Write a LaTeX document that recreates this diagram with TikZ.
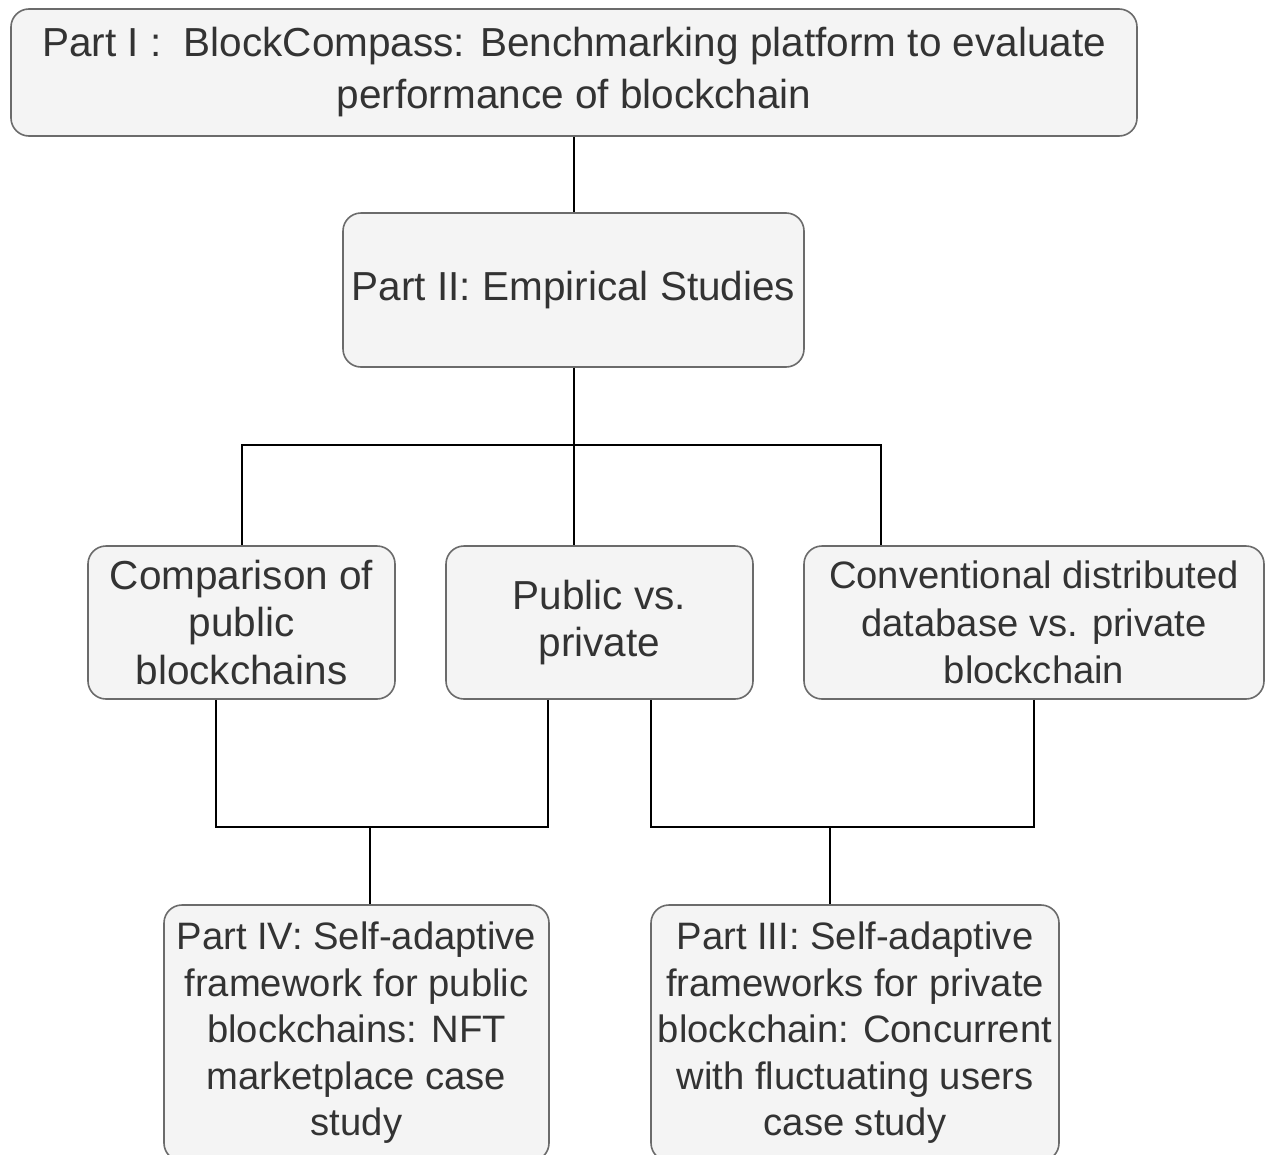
\documentclass[tikz,border=0pt]{standalone}
\usepackage{fontspec}
\setmainfont{Liberation Sans}
\begin{document}
\begin{tikzpicture}[x=1pt,y=-1pt,
  box/.style={draw=boxline, fill=boxfill, line width=1.6pt, rounded corners=18pt,
    inner sep=0pt, align=center, text=textgray,
    font=\fontsize{40.5}{47.5}\selectfont},
  smalltext/.style={font=\fontsize{38.2}{46.5}\selectfont},
  link/.style={draw=black, line width=2pt}]
\definecolor{boxline}{HTML}{6B6B6B}
\definecolor{boxfill}{HTML}{F4F4F4}
\definecolor{textgray}{HTML}{333333}
\useasboundingbox[fill=white] (0,0) rectangle (1265,1154);

% boxes, each placed by its centre and size
\node[box, font=\fontsize{40.5}{52}\selectfont, minimum width=1126pt, minimum height=127pt] (p1) at (574,72.5)
  {Part I :~ BlockCompass: Benchmarking platform to evaluate\\performance of blockchain};
\node[box, minimum width=461pt, minimum height=154pt] (p2) at (573.5,290)
  {Part II: Empirical Studies};
\node[box, minimum width=307pt, minimum height=153pt] (cmp) at (241.5,622.5)
  {Comparison of\\public\\blockchains};
\node[box, minimum width=307pt, minimum height=153pt] (pvp) at (599.5,622.5)
  {Public vs.\\private};
\node[box, font=\fontsize{38.2}{47.5}\selectfont, minimum width=460pt, minimum height=153pt] (cdb) at (1034,622.5)
  {Conventional distributed\\database vs. private\\blockchain};
\node[box, smalltext, minimum width=385pt, minimum height=256pt] (p4) at (356.5,1033)
  {\raisebox{0pt}[\height][\depth]{}Part IV: Self-adaptive\\framework for public\\blockchains: NFT\\marketplace case\\study};
\node[box, smalltext, minimum width=408pt, minimum height=256pt] (p3) at (855,1033)
  {Part III: Self-adaptive\\frameworks for private\\blockchain: Concurrent\\with fluctuating users\\case study};

% junction points of the tree
\coordinate (j2) at (574,445);
\coordinate (jl) at (382,827);
\coordinate (jr) at (842,827);

\draw[link] (p1.south -| 574,0) -- (p2.north -| 574,0);
\draw[link] (p2.south -| 574,0) -- (j2);
\draw[link] (p2.south -| 574,0) |- (j2) -| (cmp.north);
\draw[link] (j2) -- (pvp.north -| 574,0);
\draw[link] (j2) -| (cdb.north -| 881,0);

\draw[link] (cmp.south -| 216,0) |- (jl -| 370,0) -- (p4.north -| 370,0);
\draw[link] (pvp.south -| 548,0) |- (jl -| 370,0);
\draw[link] (pvp.south -| 651,0) |- (jr -| 830,0) -- (p3.north -| 830,0);
\draw[link] (cdb.south) |- (jr -| 830,0);
\end{tikzpicture}
\end{document}
